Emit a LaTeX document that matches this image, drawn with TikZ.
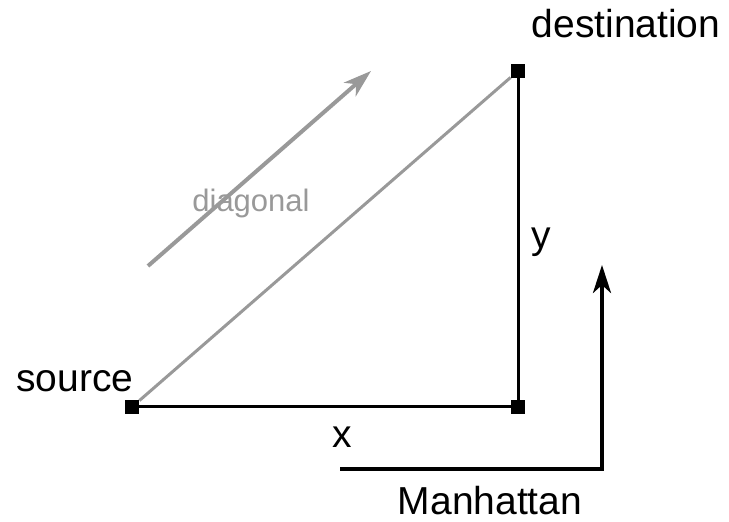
\documentclass[tikz,border=0pt]{standalone}
\usepackage{fontspec}
\setmainfont{Liberation Sans}
\usetikzlibrary{arrows.meta, positioning}

\begin{document}
\begin{tikzpicture}[
  x=0.5pt, y=-0.5pt,
  point/.style={rectangle, fill=black, draw=none, inner sep=0pt, minimum size=7pt},
  lbl/.style={inner sep=0pt, font=\fontsize{19.5}{22}\selectfont},
  lblSmall/.style={inner sep=0pt, font=\fontsize{15.5}{18}\selectfont, text=black!40},
  edge/.style={draw=black, line width=1.5pt},
  diag/.style={draw=black!40, line width=1.5pt},
  hint/.style={-{Stealth[length=14pt, width=9pt, inset=4pt]}, draw=black!40, line width=2pt},
  route/.style={-{Stealth[length=14pt, width=9pt, inset=4pt]}, draw=black, line width=2pt}
]
\useasboundingbox (0,0) rectangle (729,522);

% Points
\node[point] (src)    at (132,407) {};
\node[point] (corner) at (518,407) {};
\node[point] (dst)    at (518,71)  {};

% Labels
\node[lbl] (srcLbl) at (75,381)  {source};
\node[lbl] (dstLbl) at (626,24)  {destination};
\node[lbl] (xLbl)   at (342,437) {x};
\node[lbl] (yLbl)   at (541,242) {y};
\node[lbl] (manLbl) at (490,501) {Manhattan};
\node[lblSmall] (diagLbl) at (251,203) {diagonal};

% Triangle
\draw[diag] (src) -- (dst);
\draw[edge] (src) -- (corner);
\draw[edge] (corner) -- (dst);

% Direction arrows
\coordinate (diagStart) at (148,266);
\coordinate (diagEnd)   at (371,71);
\draw[hint] (diagStart) -- (diagEnd);

\coordinate (manStart) at (340,469);
\coordinate (manEnd)   at (602,265);
\draw[route] (manStart) -| (manEnd);
\end{tikzpicture}
\end{document}
